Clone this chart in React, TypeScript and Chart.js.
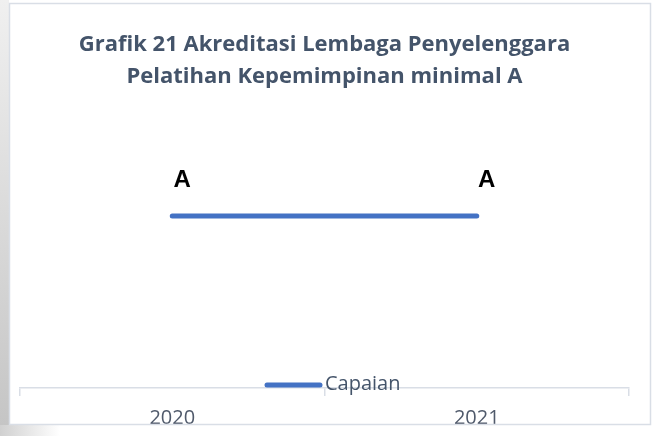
import React, { useEffect, useRef } from "react";
import { Chart, registerables } from "chart.js";

Chart.register(...registerables);

const titleLines = ["Grafik 21 Akreditasi Lembaga Penyelenggara", "Pelatihan Kepemimpinan minimal A"];
const years = ["2020", "2021"];
const capaianValues = [1, 1];
const capaianLabels = ["A", "A"];
const seriesName = "Capaian";

const frameColor = "#D9DEE6";
const lineColor = "#4472C4";
const textColor = "#44546A";

const framePlugin = {
  id: "frame",
  beforeDraw(chart: any) {
    const { ctx, width, height } = chart;
    ctx.save();
    ctx.fillStyle = "#ffffff";
    ctx.fillRect(0, 0, width, height);
    const g = ctx.createLinearGradient(0, 0, 0, height);
    g.addColorStop(0, "#f0f0f0");
    g.addColorStop(1, "#c4c4c4");
    ctx.fillStyle = g;
    ctx.fillRect(0, 0, 9, height);
    ctx.restore();
  },
  afterDraw(chart: any) {
    const { ctx, width, height } = chart;
    ctx.save();
    ctx.fillStyle = "#ffffff";
    ctx.fillRect(9, 425, width - 9, height - 425);
    const g2 = ctx.createLinearGradient(0, 0, 60, 0);
    g2.addColorStop(0, "#d0d0d0");
    g2.addColorStop(1, "#ffffff");
    ctx.fillStyle = g2;
    ctx.fillRect(0, 425, 60, height - 425);
    ctx.strokeStyle = frameColor;
    ctx.lineWidth = 1.5;
    ctx.strokeRect(9.5, 3.5, 641, 421);
    ctx.restore();
  },
};

const labelPlugin = {
  id: "pointLabels",
  afterDatasetsDraw(chart: any) {
    const { ctx } = chart;
    const meta = chart.getDatasetMeta(0);
    ctx.save();
    ctx.font = "bold 24px 'Liberation Sans', Arial, sans-serif";
    ctx.fillStyle = "#000000";
    ctx.textAlign = "center";
    ctx.textBaseline = "middle";
    meta.data.forEach((pt: any, i: number) => {
      ctx.fillText(capaianLabels[i], pt.x + 10, pt.y - 36);
    });
    ctx.restore();
  },
};

const legendPlugin = {
  id: "customLegend",
  afterDraw(chart: any) {
    const { ctx } = chart;
    ctx.save();
    ctx.strokeStyle = lineColor;
    ctx.lineWidth = 5;
    ctx.lineCap = "round";
    ctx.beginPath();
    ctx.moveTo(267, 385);
    ctx.lineTo(320, 385);
    ctx.stroke();
    ctx.font = "20px 'Open Sans', sans-serif";
    ctx.fillStyle = textColor;
    ctx.textAlign = "left";
    ctx.textBaseline = "middle";
    ctx.fillText(seriesName, 325, 384);
    ctx.restore();
  },
};

export default function App() {
  const ref = useRef<HTMLCanvasElement>(null);
  useEffect(() => {
    document.body.style.margin = "0";
    const chart = new Chart(ref.current!, {
      type: "line",
      data: {
        labels: years,
        datasets: [
          {
            label: seriesName,
            data: capaianValues,
            borderColor: lineColor,
            backgroundColor: lineColor,
            borderWidth: 5,
            borderCapStyle: "round",
            pointRadius: 0,
            fill: false,
          },
        ],
      },
      options: {
        animation: false,
        responsive: false,
        maintainAspectRatio: false,
        layout: { padding: { left: 20, right: 24, top: 29, bottom: -4 } },
        plugins: {
          legend: { display: false },
          tooltip: { enabled: false },
          title: {
            display: true,
            text: titleLines,
            color: textColor,
            font: { family: "'Open Sans', sans-serif", size: 22, weight: "bold", lineHeight: 1.45 },
            padding: { top: 0, bottom: 20 },
          },
        },
        scales: {
          x: {
            offset: true,
            grid: { offset: true, drawOnChartArea: false, color: frameColor, tickLength: 8, lineWidth: 1.5 },
            border: { color: frameColor, width: 1.5 },
            ticks: { color: "#505A6B", font: { family: "'Open Sans', sans-serif", size: 20 }, padding: 10 },
          },
          y: { display: false, min: 0, max: 1.6 },
        },
      },
      plugins: [framePlugin, labelPlugin, legendPlugin],
    });
    return () => chart.destroy();
  }, []);
  return (
    <div style={{ width: 653, height: 436 }}>
      <canvas ref={ref} width={653} height={436} style={{ display: "block" }} />
    </div>
  );
}
